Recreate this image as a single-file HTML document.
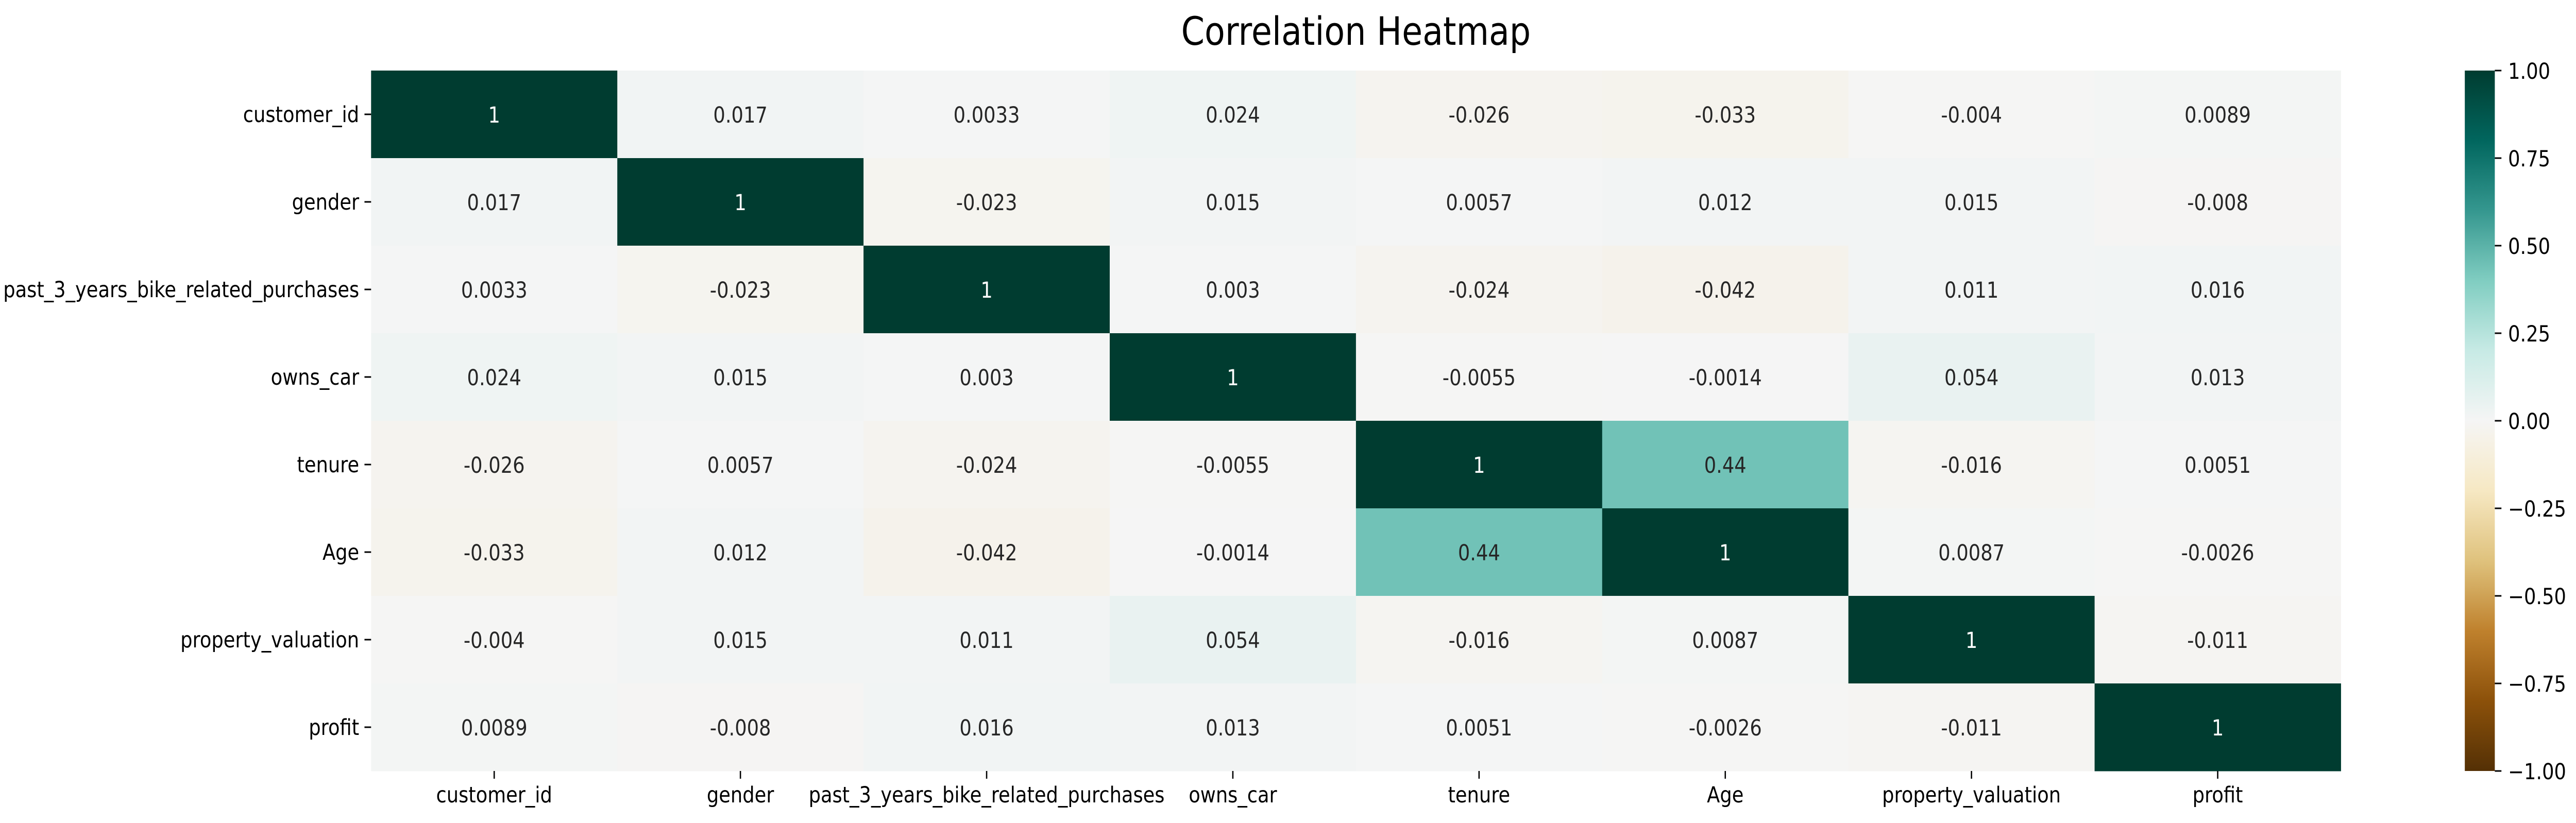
<!DOCTYPE html>
<html><head><meta charset="utf-8"><style>
html,body{margin:0;padding:0;background:#fff;width:100%;height:100%;overflow:hidden;}
svg{display:block;width:100vw;height:100vh;font-family:"DejaVu Sans","Liberation Sans",sans-serif;}
</style></head><body>
<svg id="chart" viewBox="0 0 5838 1598" preserveAspectRatio="none" xmlns="http://www.w3.org/2000/svg">
<rect width="5838" height="1598" fill="#fff"/>
<text x="3073" y="87" font-size="76" text-anchor="middle" fill="#000">Correlation Heatmap</text>
<g id="cells"></g><g id="ylabels"></g><g id="xlabels"></g>
<defs><linearGradient id="cbgrad" x1="0" y1="1" x2="0" y2="0"></linearGradient></defs>
<rect id="cbar" x="5586" y="137" width="68" height="1360" fill="url(#cbgrad)"/>
<g id="cbticks"></g>
</svg>
<script>
const labels = ["customer_id","gender","past_3_years_bike_related_purchases","owns_car","tenure","Age","property_valuation","profit"];
const values = [
 [1,0.017,0.0033,0.024,-0.026,-0.033,-0.004,0.0089],
 [0.017,1,-0.023,0.015,0.0057,0.012,0.015,-0.008],
 [0.0033,-0.023,1,0.003,-0.024,-0.042,0.011,0.016],
 [0.024,0.015,0.003,1,-0.0055,-0.0014,0.054,0.013],
 [-0.026,0.0057,-0.024,-0.0055,1,0.44,-0.016,0.0051],
 [-0.033,0.012,-0.042,-0.0014,0.44,1,0.0087,-0.0026],
 [-0.004,0.015,0.011,0.054,-0.016,0.0087,1,-0.011],
 [0.0089,-0.008,0.016,0.013,0.0051,-0.0026,-0.011,1]
];
const cbTicks = [1.00,0.75,0.50,0.25,0.00,-0.25,-0.50,-0.75,-1.00];
const NS="http://www.w3.org/2000/svg";
const X0=841,Y0=137,CW=558,CH=170,CB_TOP=137,CB_H=1360;
const stops=["#543005","#8c510a","#bf812d","#dfc27d","#f6e8c3","#f5f5f5","#c7eae5","#80cdc1","#35978f","#01665e","#003c30"];
function hex(h){return [1,3,5].map(i=>parseInt(h.substr(i,2),16));}
function cmap(v){let t=(v+1)/2*10;t=Math.max(0,Math.min(10,t));let i=Math.min(9,Math.floor(t));let f=t-i;let a=hex(stops[i]),b=hex(stops[i+1]);return a.map((x,k)=>Math.round(x+(b[k]-x)*f));}
function xs(j){return X0+j*CW;}
function ys(i){return Y0+i*CH;}
function cbY(v){return CB_TOP+(1-v)/2*CB_H;}
function mk(tag,attrs,parent){const e=document.createElementNS(NS,tag);for(const k in attrs)e.setAttribute(k,attrs[k]);parent.appendChild(e);return e;}
const cells=document.getElementById('cells');
for(let i=0;i<labels.length;i++){for(let j=0;j<labels.length;j++){
 const v=values[i][j];const c=cmap(v);
 const r=mk('rect',{x:xs(j),y:ys(i),width:CW+0.5,height:CH+0.5,fill:`rgb(${c})`},cells);
 
 
 const lum=(0.299*c[0]+0.587*c[1]+0.114*c[2])/255;
 const t=mk('text',{x:xs(j)+CW/2,y:ys(i)+CH/2+16,'font-size':43,'text-anchor':'middle',fill:lum<0.4?'#fff':'#262626'},cells);
 t.textContent=String(v);
 
 
}}
const yl=document.getElementById('ylabels'),xl=document.getElementById('xlabels');
labels.forEach((l,i)=>{
 mk('line',{x1:X0-15,x2:X0,y1:ys(i)+CH/2,y2:ys(i)+CH/2,stroke:'#000','stroke-width':3},yl);
 const t=mk('text',{x:X0-27,y:ys(i)+CH/2+15,'font-size':43,'text-anchor':'end',fill:'#000'},yl);
 t.textContent=l;
 
 
 mk('line',{x1:xs(i)+CW/2,x2:xs(i)+CW/2,y1:Y0+8*CH,y2:Y0+8*CH+15,stroke:'#000','stroke-width':3},xl);
 const u=mk('text',{x:xs(i)+CW/2,y:Y0+8*CH+61,'font-size':43,'text-anchor':'middle',fill:'#000'},xl);
 u.textContent=l;
 
 
});
const g=document.getElementById('cbgrad');
for(let k=0;k<=20;k++){const v=-1+k/10;const c=cmap(v);mk('stop',{offset:(k/20),'stop-color':`rgb(${c})`},g);}
const cbt=document.getElementById('cbticks');
cbTicks.forEach(v=>{
 const y=cbY(v);
 mk('line',{x1:5654,x2:5669,y1:y,y2:y,stroke:'#000','stroke-width':3},cbt);
 const t=mk('text',{x:5684,y:y+16,'font-size':43,fill:'#000'},cbt);
 t.textContent=(v<0?'\u2212':'')+Math.abs(v).toFixed(2);
 
 
});
</script>
</body></html>
